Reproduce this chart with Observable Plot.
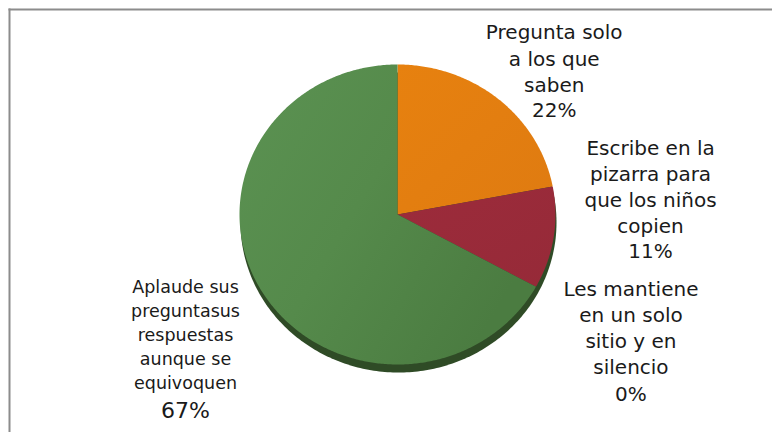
<!DOCTYPE html>
<html><head><meta charset="utf-8">
<script src="https://cdn.jsdelivr.net/npm/d3@7"></script>
<script src="https://cdn.jsdelivr.net/npm/@observablehq/plot@0.6"></script>
<style>body{margin:0;background:#fff}</style>
</head><body><div id="chart"></div>
<script>
// ---- data ----
const categories = [
  "Pregunta solo a los que saben",
  "Escribe en la pizarra para que los niños copien",
  "Les mantiene en un solo sitio y en silencio",
  "Aplaude sus preguntasus respuestas aunque se equivoquen"
];
const values = [22, 11, 0, 67];
const percentLabels = ["22%", "11%", "0%", "67%"];
const labelLines = [
  ["Pregunta solo", "a los que", "saben"],
  ["Escribe en la", "pizarra para", "que los niños", "copien"],
  ["Les mantiene", "en un solo", "sitio y en", "silencio"],
  ["Aplaude sus", "preguntasus", "respuestas", "aunque se", "equivoquen"]
];

// ---- styles / layout ----
const fills = ["url(#gOrange)", "url(#gRed)", "#7f7f7f", "url(#gGreen)"];
const labelOffsets = [ // pixel offsets from slice rim midpoint: [dx, dyNames, dyPct, lineHeightPx, nameSize, pctSize]
  [56, -6.5, 18.5, 26.5, 20, 20],
  [97, -5, 20, 26, 20, 20],
  [95, 87, 114, 26, 20, 20],
  [-76, 98, 127, 24, 17.5, 22]
];
const FONT = "'DejaVu Sans', sans-serif";

const data = categories.map((c, i) => ({category: c, value: values[i]}));
const arcs = d3.pie().sort(null).value(d => d.value)(data);

const slices = arcs.map((a, i) => {
  const pts = [{x: 0, y: 0}];
  const n = Math.max(2, Math.ceil((a.endAngle - a.startAngle) / 0.01));
  for (let k = 0; k <= n; k++) {
    const t = a.startAngle + (a.endAngle - a.startAngle) * k / n;
    pts.push({x: Math.sin(t), y: Math.cos(t)});
  }
  return pts;
});
const fullEllipse = d3.range(0, 361, 1).map(d => ({x: Math.sin(d * Math.PI / 180), y: Math.cos(d * Math.PI / 180)}));

const defs = () => {
  const s = d3.create("svg:defs");
  const grad = (id, stops, x2, y2) => {
    const g = s.append("linearGradient").attr("id", id).attr("x1", 0).attr("y1", 0).attr("x2", x2).attr("y2", y2);
    stops.forEach(([o, c]) => g.append("stop").attr("offset", o).attr("stop-color", c));
  };
  grad("gGreen", [[0, "#5b9252"], [0.5, "#558a4b"], [1, "#4b7c41"]], 1, 0.6);
  grad("gOrange", [[0, "#e7810f"], [1, "#df7b11"]], 1, 1);
  grad("gRed", [[0, "#9c2b3b"], [1, "#962a38"]], 1, 1);
  return s.node();
};

const marks = [
  defs,
  Plot.frame({anchor: "top", stroke: "#8c8c8c", strokeWidth: 2}),
  Plot.frame({anchor: "left", stroke: "#8c8c8c", strokeWidth: 2}),
  Plot.line(fullEllipse, {x: "x", y: "y", fill: "#2f4b26", stroke: "none", dy: 8, dx: 1}),
  ...slices.map((pts, i) => Plot.line(pts, {x: "x", y: "y", fill: fills[i], stroke: "none"}))
];

arcs.forEach((a, i) => {
  const mid = (a.startAngle + a.endAngle) / 2;
  const pos = [{x: Math.sin(mid), y: Math.cos(mid)}];
  const [dx, dyN, dyP, lh, ns, ps] = labelOffsets[i];
  marks.push(Plot.text(pos, {
    x: "x", y: "y", text: () => labelLines[i].join("\n"),
    dx, dy: dyN, lineAnchor: "bottom", lineHeight: lh / ns,
    fontSize: ns, fill: "#1a1a1a", fontFamily: FONT
  }));
  marks.push(Plot.text(pos, {
    x: "x", y: "y", text: () => percentLabels[i],
    dx, dy: dyP, lineAnchor: "bottom",
    fontSize: ps, fill: "#1a1a1a", fontFamily: FONT
  }));
});

const chart = Plot.plot({
  width: 772, height: 432,
  marginTop: 9, marginLeft: 9, marginRight: 0, marginBottom: 0,
  x: {domain: [-1, 1], range: [239, 555], axis: null},
  y: {domain: [-1, 1], range: [364, 64], axis: null},
  style: {fontFamily: FONT, background: "#fff", overflow: "visible"},
  marks
});
document.getElementById("chart").appendChild(chart);
</script>
</body></html>
